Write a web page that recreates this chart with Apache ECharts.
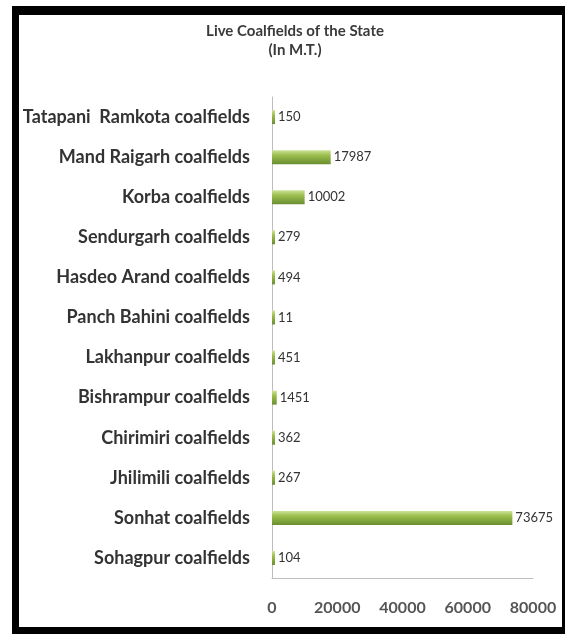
<!DOCTYPE html>
<html>
<head>
<meta charset="utf-8">
<script src="https://cdn.jsdelivr.net/npm/echarts@6/dist/echarts.min.js"></script>
<style>
  html, body { margin: 0; padding: 0; background: #fff; }
  #wrap { position: relative; width: 565px; height: 634px; overflow: hidden; }
  #chart { position: absolute; left: 0; top: 0; width: 565px; height: 634px; }
  .frame { position: absolute; background: #000; pointer-events: none; }
</style>
</head>
<body>
<div id="wrap">
  <div id="chart"></div>
  <div class="frame" style="left:12px; top:6px; width:553px; height:9px;"></div>
  <div class="frame" style="left:12px; top:6px; width:7px; height:628px;"></div>
  <div class="frame" style="left:562px; top:6px; width:3px; height:628px;"></div>
  <div class="frame" style="left:12px; top:627px; width:553px; height:7px;"></div>
</div>
<script>
const categories = [
  "Tatapani  Ramkota coalfields",
  "Mand Raigarh coalfields",
  "Korba coalfields",
  "Sendurgarh coalfields",
  "Hasdeo Arand coalfields",
  "Panch Bahini coalfields",
  "Lakhanpur coalfields",
  "Bishrampur coalfields",
  "Chirimiri coalfields",
  "Jhilimili coalfields",
  "Sonhat coalfields",
  "Sohagpur coalfields"
];
const values = [150, 17987, 10002, 279, 494, 11, 451, 1451, 362, 267, 73675, 104];
const xTicks = [0, 20000, 40000, 60000, 80000];

const FONT = 'Lato, "Open Sans", sans-serif';
const chart = echarts.init(document.getElementById('chart'), null, { renderer: 'canvas' });
chart.setOption({
  animation: false,
  backgroundColor: '#ffffff',
  title: {
    text: 'Live Coalfields of the State\n(In M.T.)',
    left: 290,
    top: 17,
    textAlign: 'center',
    textStyle: {
      fontFamily: FONT,
      fontSize: 15,
      fontWeight: 'bold',
      color: '#3a3a3a',
      lineHeight: 19
    }
  },
  grid: { left: 272, right: 32, top: 97, bottom: 56, containLabel: false },
  xAxis: {
    type: 'value',
    min: xTicks[0],
    max: xTicks[xTicks.length - 1],
    interval: 20000,
    splitLine: { show: false },
    axisLine: { show: true, lineStyle: { color: '#bdbdbd', width: 1 } },
    axisTick: { show: false },
    axisLabel: {
      margin: 22,
      formatter: function (v) { return String(v); },
      fontFamily: FONT,
      fontSize: 16,
      fontWeight: 'bold',
      color: '#555'
    }
  },
  yAxis: {
    type: 'category',
    data: categories,
    inverse: true,
    axisLine: { show: true, lineStyle: { color: '#bdbdbd', width: 1 } },
    axisTick: { show: false },
    axisLabel: {
      margin: 22,
      fontFamily: FONT,
      fontSize: 18,
      fontWeight: 'bold',
      color: '#333'
    }
  },
  series: [{
    type: 'bar',
    data: values,
    barWidth: 14,
    barMinHeight: 3,
    itemStyle: {
      color: new echarts.graphic.LinearGradient(0, 0, 0, 1, [
        { offset: 0, color: '#cfe39a' },
        { offset: 0.35, color: '#9dc050' },
        { offset: 1, color: '#6a8e2e' }
      ])
    },
    label: {
      show: true,
      position: 'right',
      distance: 3,
      fontFamily: FONT,
      fontSize: 13,
      color: '#333'
    }
  }]
});
</script>
</body>
</html>
